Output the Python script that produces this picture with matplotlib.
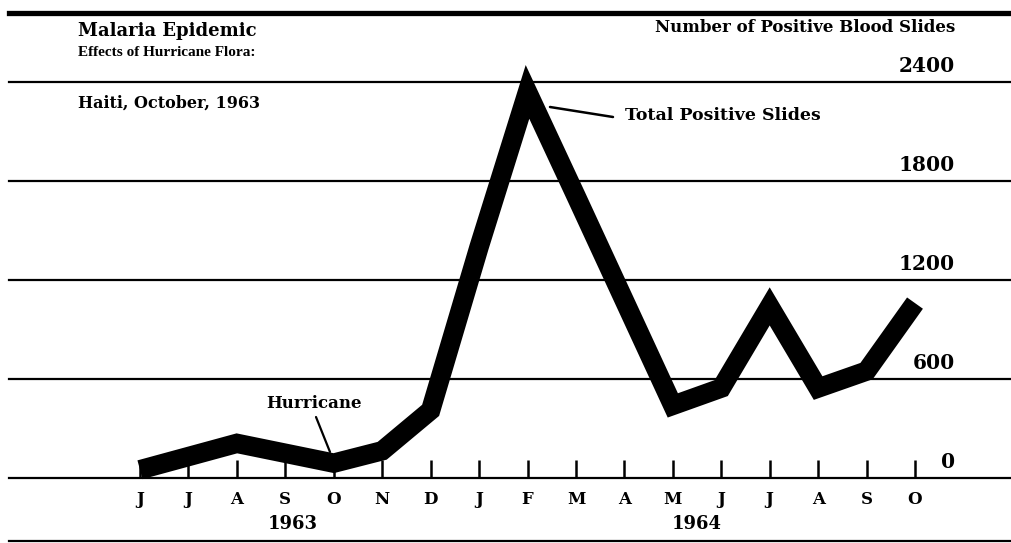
import matplotlib
matplotlib.use("Agg")
import matplotlib.pyplot as plt
import matplotlib.transforms as mtransforms

# data
months = ["J", "J", "A", "S", "O", "N", "D", "J", "F", "M", "A", "M", "J", "J", "A", "S", "O"]
positive_slides = [50, 130, 210, 150, 90, 165, 410, 1400, 2340, 1710, 1075, 440, 545, 1040, 545, 648, 1060]
y_ticks = [0, 600, 1200, 1800, 2400]
years = ["1963", "1964"]
year_pos = [3.15, 11.5]

FONT = "DejaVu Serif"
FONT2 = "Liberation Serif"
W, H = 1011, 543


def fx(px):
    return px / W


def fy(py):
    return 1 - py / H


def main():
    fig = plt.figure(figsize=(W / 100, H / 100), dpi=100)
    ax = fig.add_axes([0, 0, 1, 1])
    ax.set_axis_off()

    # pixel mapping: first month at 140px, last at 915px; 0 at 478px, 2400 at 82px
    ppm = (915 - 140) / (len(months) - 1)
    ppu = (478 - 82) / 2400
    ax.set_xlim(-140 / ppm, (W - 140) / ppm)
    ax.set_ylim(-(H - 478) / ppu, 478 / ppu)

    def px2data(px, py):
        return (px - 140) / ppm, (478 - py) / ppu

    x = list(range(len(months)))
    line_start = 9 / W

    for v in y_ticks:
        ax.axhline(v, xmin=line_start, xmax=1, color="black", lw=1.6, zorder=1)

    # top and bottom rules
    ax.axhline((478 - 13) / ppu, xmin=line_start, xmax=1, color="black", lw=3.8)
    ax.axhline(-(541 - 478) / ppu, xmin=line_start, xmax=1, color="black", lw=1.6)

    # month ticks
    ax.vlines(x, 0, 18 / ppu, color="black", lw=1.8, zorder=1)

    ax.plot(x, positive_slides, color="black", lw=14, solid_joinstyle="miter",
            solid_capstyle="butt", zorder=3)

    bold = dict(fontweight="bold", color="black")

    for i, m in enumerate(months):
        ax.text(i, -(500 - 478) / ppu, m, ha="center", va="center", fontsize=12,
                family=FONT, **bold)
    for yr, p in zip(years, year_pos):
        ax.text(p, -(524 - 478) / ppu, yr, ha="center", va="center", fontsize=13,
                family=FONT, **bold)

    trans = mtransforms.blended_transform_factory(ax.transAxes, ax.transData)
    for v in y_ticks:
        ax.text(fx(955), v + 6 / ppu, f"{v}", ha="right", va="bottom", fontsize=14.5,
                transform=trans, family=FONT, **bold)

    fig.text(fx(78), fy(31), "Malaria Epidemic", ha="left", va="center", fontsize=13,
             family=FONT, **bold)
    fig.text(fx(78), fy(52), "Effects of Hurricane Flora:", ha="left", va="center",
             fontsize=11, family=FONT2, **bold)
    fig.text(fx(78), fy(103), "Haiti, October, 1963", ha="left", va="center",
             fontsize=11.5, family=FONT, **bold)
    fig.text(fx(955), fy(28), "Number of Positive Blood Slides", ha="right", va="center",
             fontsize=12, family=FONT, **bold)

    # leader lines
    ax.annotate("", xy=px2data(550, 107), xytext=px2data(613, 117),
                arrowprops=dict(arrowstyle="-", color="black", lw=1.8, shrinkA=0, shrinkB=0))
    fig.text(fx(625), fy(116), "Total Positive Slides", ha="left", va="center",
             fontsize=12.5, family=FONT, **bold)
    ax.annotate("", xy=px2data(330, 452), xytext=px2data(316, 417),
                arrowprops=dict(arrowstyle="-", color="black", lw=1.6, shrinkA=0, shrinkB=0))
    fig.text(fx(314), fy(403), "Hurricane", ha="center", va="center", fontsize=12,
             family=FONT, **bold)

    fig.savefig("out.png", dpi=100, facecolor="white")


if __name__ == "__main__":
    main()
